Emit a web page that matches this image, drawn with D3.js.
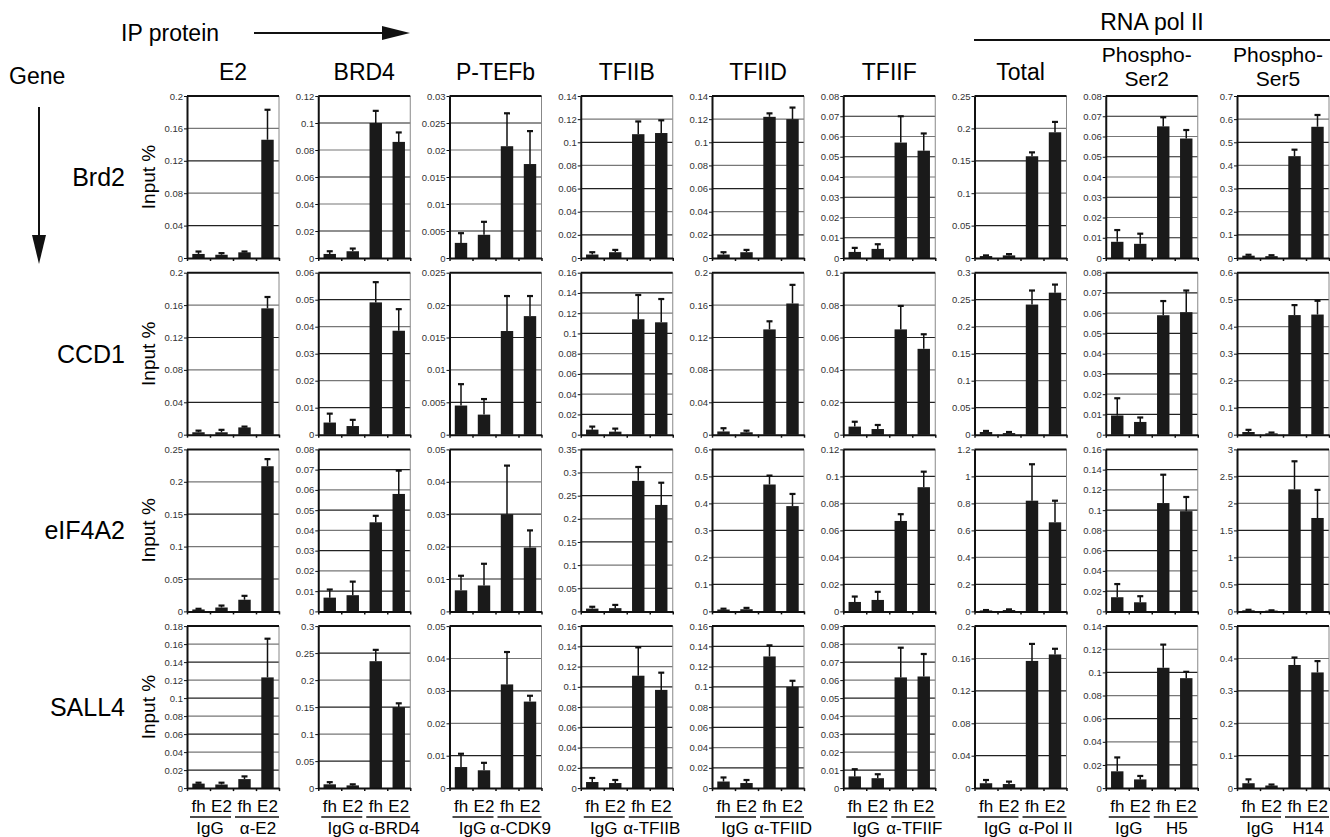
<!DOCTYPE html>
<html>
<head>
<meta charset="utf-8">
<script src="https://cdnjs.cloudflare.com/ajax/libs/d3/7.8.5/d3.min.js"></script>
<style>
body { margin: 0; background: #fff; }
svg { display: block; font-family: "Liberation Sans", Arial, Helvetica, sans-serif; }
</style>
</head>
<body>
<div id="chart"></div>
<script>
// columns = IP protein, rows = gene
var proteins = [["E2"], ["BRD4"], ["P-TEFb"], ["TFIIB"], ["TFIID"], ["TFIIF"], ["Total"], ["Phospho-", "Ser2"], ["Phospho-", "Ser5"]];
var antibodies = ["α-E2", "α-BRD4", "α-CDK9", "α-TFIIB", "α-TFIID", "α-TFIIF", "α-Pol II", "H5", "H14"];
var genes = ["Brd2", "CCD1", "eIF4A2", "SALL4"];
var conditions = ["fh", "E2", "fh", "E2"];
var controlLabel = "IgG";

// y axis top and tick step, per gene row
var brd2Max  = [0.2, 0.12, 0.03, 0.14, 0.14, 0.08, 0.25, 0.08, 0.7];
var brd2Step = [0.04, 0.02, 0.005, 0.02, 0.02, 0.01, 0.05, 0.01, 0.1];
var ccd1Max  = [0.2, 0.06, 0.025, 0.16, 0.2, 0.1, 0.3, 0.08, 0.6];
var ccd1Step = [0.04, 0.01, 0.005, 0.02, 0.04, 0.02, 0.05, 0.01, 0.1];
var eif4a2Max  = [0.25, 0.08, 0.05, 0.35, 0.6, 0.12, 1.2, 0.16, 3];
var eif4a2Step = [0.05, 0.01, 0.01, 0.05, 0.1, 0.02, 0.2, 0.02, 0.5];
var sall4Max  = [0.18, 0.3, 0.05, 0.16, 0.16, 0.09, 0.2, 0.14, 0.5];
var sall4Step = [0.02, 0.05, 0.01, 0.02, 0.02, 0.01, 0.04, 0.02, 0.1];

// mean input % (IgG fh, IgG E2, antibody fh, antibody E2) and top of error bar
var brd2Values = [
  [0.005, 0.004, 0.007, 0.146], [0.003, 0.005, 0.1, 0.086], [0.0028, 0.0043, 0.0207, 0.0174],
  [0.003, 0.005, 0.107, 0.108], [0.003, 0.005, 0.122, 0.12], [0.003, 0.0045, 0.057, 0.053],
  [0.003, 0.004, 0.157, 0.194], [0.008, 0.007, 0.065, 0.059], [0.01, 0.008, 0.44, 0.567]];
var brd2Upper = [
  [0.008, 0.006, 0.008, 0.183], [0.005, 0.007, 0.109, 0.093], [0.0046, 0.0067, 0.0268, 0.0235],
  [0.005, 0.007, 0.118, 0.119], [0.005, 0.007, 0.125, 0.13], [0.005, 0.0068, 0.07, 0.0615],
  [0.004, 0.006, 0.163, 0.21], [0.0138, 0.012, 0.0695, 0.0632], [0.014, 0.012, 0.468, 0.618]];
var ccd1Values = [
  [0.003, 0.003, 0.009, 0.156], [0.0045, 0.0032, 0.049, 0.0385], [0.0045, 0.0031, 0.016, 0.0183],
  [0.005, 0.003, 0.114, 0.111], [0.004, 0.003, 0.13, 0.162], [0.005, 0.0035, 0.065, 0.053],
  [0.005, 0.003, 0.241, 0.263], [0.0095, 0.0063, 0.059, 0.0605], [0.01, 0.005, 0.443, 0.445]];
var ccd1Upper = [
  [0.005, 0.006, 0.01, 0.17], [0.0078, 0.0055, 0.0565, 0.0465], [0.0078, 0.0055, 0.0214, 0.0214],
  [0.008, 0.006, 0.138, 0.134], [0.008, 0.005, 0.14, 0.185], [0.008, 0.006, 0.0795, 0.062],
  [0.007, 0.005, 0.267, 0.278], [0.018, 0.0085, 0.066, 0.0712], [0.018, 0.008, 0.48, 0.496]];
var eif4a2Values = [
  [0.003, 0.006, 0.018, 0.224], [0.0068, 0.008, 0.044, 0.058], [0.0065, 0.008, 0.03, 0.0197],
  [0.006, 0.007, 0.282, 0.23], [0.007, 0.008, 0.47, 0.39], [0.007, 0.0085, 0.067, 0.092],
  [0.007, 0.01, 0.82, 0.66], [0.014, 0.009, 0.107, 0.099], [0.02, 0.015, 2.26, 1.73]];
var eif4a2Upper = [
  [0.004, 0.009, 0.024, 0.235], [0.0108, 0.0147, 0.0472, 0.0695], [0.011, 0.0147, 0.045, 0.025],
  [0.01, 0.014, 0.312, 0.278], [0.01, 0.013, 0.503, 0.435], [0.011, 0.0145, 0.072, 0.1035],
  [0.01, 0.015, 1.09, 0.82], [0.027, 0.015, 0.135, 0.113], [0.03, 0.02, 2.78, 2.25]];
var sall4Values = [
  [0.005, 0.004, 0.01, 0.123], [0.007, 0.005, 0.235, 0.15], [0.0065, 0.0055, 0.032, 0.0267],
  [0.006, 0.005, 0.111, 0.097], [0.0065, 0.005, 0.13, 0.1], [0.0065, 0.0055, 0.0615, 0.062],
  [0.006, 0.005, 0.157, 0.165], [0.0145, 0.0075, 0.104, 0.095], [0.015, 0.008, 0.38, 0.357]];
var sall4Upper = [
  [0.006, 0.006, 0.013, 0.166], [0.011, 0.007, 0.256, 0.157], [0.0106, 0.0078, 0.042, 0.0285],
  [0.01, 0.008, 0.139, 0.114], [0.0105, 0.008, 0.141, 0.106], [0.0105, 0.0077, 0.078, 0.0745],
  [0.01, 0.008, 0.178, 0.172], [0.0265, 0.0105, 0.124, 0.1005], [0.027, 0.011, 0.403, 0.392]];

var rows = [
  {max: brd2Max, step: brd2Step, values: brd2Values, upper: brd2Upper},
  {max: ccd1Max, step: ccd1Step, values: ccd1Values, upper: ccd1Upper},
  {max: eif4a2Max, step: eif4a2Step, values: eif4a2Values, upper: eif4a2Upper},
  {max: sall4Max, step: sall4Step, values: sall4Values, upper: sall4Upper}
];

// panel layout
var W = 1330, H = 837;
var panelLeft = 187, panelPitchX = 131.25, panelW = 92;
var panelTop = 96, panelPitchY = 176.7, panelH = 162;

var svg = d3.select("#chart").append("svg")
    .attr("width", W)
    .attr("height", H);

var fmt = d3.format("~g");

// header: IP protein arrow
svg.append("text")
    .attr("x", 121).attr("y", 41)
    .style("font-size", "23px")
    .text("IP protein");
svg.append("line")
    .attr("x1", 254).attr("x2", 386).attr("y1", 33).attr("y2", 33)
    .attr("stroke", "#111").attr("stroke-width", 2);
svg.append("path")
    .attr("d", "M382,26 L410,33 L382,40 Z")
    .attr("fill", "#111");

// Gene arrow
svg.append("text")
    .attr("x", 9).attr("y", 84)
    .style("font-size", "23px")
    .text("Gene");
svg.append("line")
    .attr("x1", 39).attr("x2", 39).attr("y1", 107).attr("y2", 238)
    .attr("stroke", "#111").attr("stroke-width", 2);
svg.append("path")
    .attr("d", "M32,235 L39,264 L46,235 Z")
    .attr("fill", "#111");

// RNA pol II bracket
svg.append("text")
    .attr("x", 1152).attr("y", 30)
    .attr("text-anchor", "middle")
    .style("font-size", "23px")
    .text("RNA pol II");
svg.append("line")
    .attr("x1", 974).attr("x2", W).attr("y1", 40).attr("y2", 40)
    .attr("stroke", "#111").attr("stroke-width", 2);

// column titles (two-line ones sit a little left, as in the figure)
proteins.forEach(function(lines, c) {
    var cx = panelLeft + c * panelPitchX + panelW / 2;
    if (lines.length == 1) {
        svg.append("text")
            .attr("x", cx).attr("y", 80)
            .attr("text-anchor", "middle")
            .style("font-size", "23px")
            .text(lines[0]);
    } else {
        lines.forEach(function(s, k) {
            svg.append("text")
                .attr("x", cx - 5).attr("y", 62 + k * 24)
                .attr("text-anchor", "middle")
                .style("font-size", "21px")
                .text(s);
        });
    }
});

// one small bar chart per gene x protein
rows.forEach(function(row, r) {
    var top = panelTop + r * panelPitchY;
    var bottom = top + panelH;

    svg.append("text")
        .attr("x", 125).attr("y", top + panelH / 2 + 9)
        .attr("text-anchor", "end")
        .style("font-size", "25px")
        .text(genes[r]);

    svg.append("text")
        .attr("transform", "translate(155," + (top + panelH / 2) + ") rotate(-90)")
        .attr("text-anchor", "middle")
        .style("font-size", "19px")
        .text("Input %");

    proteins.forEach(function(p, c) {
        var left = panelLeft + c * panelPitchX;
        var right = left + panelW;
        var g = svg.append("g");

        var y = d3.scaleLinear().domain([0, row.max[c]]).range([bottom, top]);
        var n = Math.round(row.max[c] / row.step[c]);
        var ticks = d3.range(n + 1).map(function(i) { return i * row.step[c]; });

        var x = d3.scaleBand().domain(d3.range(4)).range([left, right])
            .paddingInner(0.46).paddingOuter(0.23);

        // gridlines
        g.selectAll(".grid")
            .data(ticks.slice(1, -1))
            .enter().append("line")
            .attr("x1", left).attr("x2", right)
            .attr("y1", function(d) { return y(d); })
            .attr("y2", function(d) { return y(d); })
            .attr("stroke", function(d, i) { return i % 2 ? "#777" : "#222"; })
            .attr("stroke-width", 1.2);

        // frame: gray right side, black top
        g.append("line")
            .attr("x1", right).attr("x2", right).attr("y1", top).attr("y2", bottom)
            .attr("stroke", "#888").attr("stroke-width", 1);
        g.append("line")
            .attr("x1", left).attr("x2", right).attr("y1", top).attr("y2", top)
            .attr("stroke", "#111").attr("stroke-width", 2);

        // bars
        g.selectAll(".bar")
            .data(row.values[c])
            .enter().append("rect")
            .attr("x", function(d, i) { return x(i); })
            .attr("y", function(d) { return y(d); })
            .attr("width", x.bandwidth())
            .attr("height", function(d) { return bottom - y(d); })
            .attr("fill", "#1a1a1a");

        // error bars
        var up = row.upper[c];
        g.selectAll(".err")
            .data(row.values[c])
            .enter().append("line")
            .attr("x1", function(d, i) { return x(i) + x.bandwidth() / 2; })
            .attr("x2", function(d, i) { return x(i) + x.bandwidth() / 2; })
            .attr("y1", function(d) { return y(d); })
            .attr("y2", function(d, i) { return y(up[i]); })
            .attr("stroke", "#111").attr("stroke-width", 1.5);
        g.selectAll(".cap")
            .data(up)
            .enter().append("line")
            .attr("x1", function(d, i) { return x(i) + x.bandwidth() / 2 - 3; })
            .attr("x2", function(d, i) { return x(i) + x.bandwidth() / 2 + 3; })
            .attr("y1", function(d) { return y(d); })
            .attr("y2", function(d) { return y(d); })
            .attr("stroke", "#111").attr("stroke-width", 2.2);

        // y axis
        var ya = g.append("g")
            .attr("transform", "translate(" + left + ",0)")
            .call(d3.axisLeft(y).tickValues(ticks).tickSize(3).tickSizeOuter(0).tickFormat(fmt));
        ya.select(".domain").attr("stroke", "#111").attr("stroke-width", 2);
        ya.selectAll(".tick line").attr("stroke", "#111");
        ya.selectAll(".tick text")
            .attr("x", -4)
            .style("font-family", "'Liberation Sans', Arial, sans-serif")
            .style("font-size", "9.5px")
            .attr("fill", "#333");

        // x axis with ticks between the bars
        var xb = d3.scaleLinear().domain([0, 4]).range([left, right]);
        var xa = g.append("g")
            .attr("transform", "translate(0," + bottom + ")")
            .call(d3.axisBottom(xb).ticks(4).tickSize(3).tickSizeOuter(0).tickFormat(""));
        xa.select(".domain").attr("stroke", "#111").attr("stroke-width", 2);
        xa.selectAll(".tick line").attr("stroke", "#111").attr("stroke-width", 1.5);

        // condition labels under the last row
        if (r == rows.length - 1) {
            var mid = (left + right) / 2;
            g.selectAll(".cond")
                .data(conditions)
                .enter().append("text")
                .attr("x", function(d, i) { return x(i) + x.bandwidth() / 2; })
                .attr("y", 812)
                .attr("text-anchor", "middle")
                .style("font-size", "17px")
                .text(function(d) { return d; });
            g.append("line")
                .attr("x1", left + 3).attr("x2", mid - 2).attr("y1", 817).attr("y2", 817)
                .attr("stroke", "#111").attr("stroke-width", 1.5);
            g.append("line")
                .attr("x1", mid + 2).attr("x2", right).attr("y1", 817).attr("y2", 817)
                .attr("stroke", "#111").attr("stroke-width", 1.5);
            g.append("text")
                .attr("x", (left + mid) / 2).attr("y", 834)
                .attr("text-anchor", "middle")
                .style("font-size", "17px")
                .text(controlLabel);
            g.append("text")
                .attr("x", (mid + right) / 2 + 2).attr("y", 834)
                .attr("text-anchor", "middle")
                .style("font-size", "17px")
                .text(antibodies[c]);
        }
    });
});
</script>
</body>
</html>
